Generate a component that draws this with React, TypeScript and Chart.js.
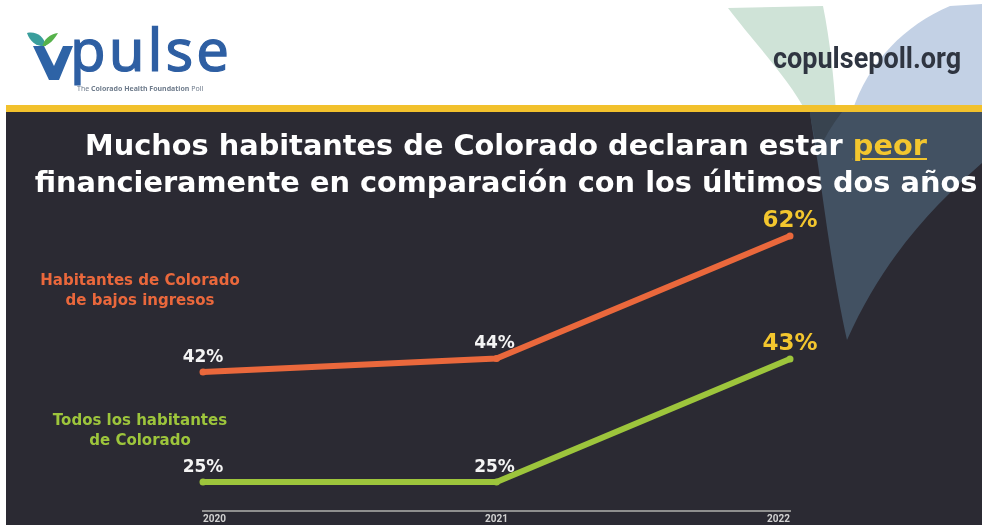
import React, { useEffect, useRef } from "react";
import { Chart, registerables } from "chart.js";

Chart.register(...registerables);

// ---- data ----
const years = ["2020", "2021", "2022"];
const lowIncome = [42, 44, 62];
const allResidents = [25, 25, 43];
const lowIncomeLegend = ["Habitantes de Colorado", "de bajos ingresos"];
const allLegend = ["Todos los habitantes", "de Colorado"];
const titleLine1 = "Muchos habitantes de Colorado declaran estar ";
const titleHighlight = "peor";
const titleLine2 = "financieramente en comparación con los últimos dos años";
const siteUrl = "copulsepoll.org";
const logoWord = "pulse";
const logoTagline = ["The ", "Colorado Health Foundation", " Poll"];

// ---- styles ----
const ORANGE = "#ea683c";
const GREEN = "#9dc53c";
const YELLOW = "#f3c62e";
const DARK = "#2b2a33";
const BOLD_FONT = '"DejaVu Sans", "Open Sans", sans-serif';

const valueLabels = {
  id: "valueLabels",
  afterDatasetsDraw(chart: any) {
    const ctx = chart.ctx;
    chart.data.datasets.forEach((ds: any, di: number) => {
      const meta = chart.getDatasetMeta(di);
      meta.data.forEach((pt: any, i: number) => {
        const last = i === ds.data.length - 1;
        ctx.save();
        ctx.font = `bold ${last ? 23 : 17}px ${BOLD_FONT}`;
        ctx.fillStyle = last ? YELLOW : "#f4f4f4";
        ctx.textAlign = "center";
        ctx.textBaseline = "alphabetic";
        ctx.fillText(`${ds.data[i]}%`, pt.x - (i === 1 ? 2 : 0), pt.y - (last ? 9 : 10));
        ctx.restore();
      });
    });
  },
};

export default function App() {
  const ref = useRef<HTMLCanvasElement>(null);

  useEffect(() => {
    const canvas = ref.current!;
    const common = {
      borderWidth: 6,
      pointRadius: 3.5,
      pointBorderWidth: 0,
      tension: 0,
      clip: false as any,
      borderJoinStyle: "round" as const,
      borderCapStyle: "round" as const,
    };
    const chart = new Chart(canvas, {
      type: "line",
      data: {
        labels: years,
        datasets: [
          {
            label: lowIncomeLegend.join(" "),
            data: lowIncome,
            yAxisID: "y",
            borderColor: ORANGE,
            backgroundColor: ORANGE,
            ...common,
          },
          {
            label: allLegend.join(" "),
            data: allResidents,
            yAxisID: "y2",
            borderColor: GREEN,
            backgroundColor: GREEN,
            ...common,
          },
        ],
      },
      options: {
        responsive: false,
        animation: false,
        devicePixelRatio: 1,
        events: [],
        layout: { padding: { left: 203, right: 192, top: 200, bottom: 0 } },
        plugins: { legend: { display: false }, tooltip: { enabled: false } },
        scales: {
          x: {
            type: "category",
            offset: false,
            grid: { display: false, drawTicks: false },
            border: { display: true, color: "#8f8f8f", width: 2 },
            ticks: {
              color: "#d2d2d2",
              font: { family: '"Liberation Sans Narrow", Roboto, sans-serif', size: 10, weight: "bold" },
              padding: 2,
              align: "inner",
              maxRotation: 0,
              autoSkip: false,
            },
            afterFit: (s: any) => {
              s.height = 14;
            },
          },
          y: { display: false, min: 21.56, max: 67.3 },
          y2: { display: false, min: 20.75, max: 66.3 },
        },
      } as any,
      plugins: [valueLabels],
    });
    return () => chart.destroy();
  }, []);

  const abs = (o: any) => ({ position: "absolute" as const, ...o });

  return (
    <div style={abs({ left: 0, top: 0, width: 982, height: 525, overflow: "hidden", background: "#fff" })}>
      <svg width={982} height={525} style={abs({ left: 0, top: 0 })}>
        {/* header decorations */}
        <path d="M728,8 L823,6 C830,40 834,80 836,112 L806,112 C790,80 752,40 728,8 Z" fill="#cfe3d7" />
        <path d="M852,112 C868,62 905,25 950,6 L982,4 L982,112 Z" fill="#c3d1e5" />
        {/* logo mark */}
        <path d="M27,33 C36,31 44,36 46,46 C37,47 30,42 27,33 Z" fill="#3a9e9c" />
        <path d="M58,33 C54,40 49,45 42,47 C44,39 50,34 58,33 Z" fill="#56b24b" />
        <path d="M33,46 L44,46 L54,66 L63,46 L73,46 L59,80 L49,80 Z" fill="#2e63a6" />
        {/* yellow band and dark panel */}
        <rect x={6} y={105} width={976} height={7} fill="#f2c12c" />
        <rect x={6} y={112} width={976} height={413} fill={DARK} />
        {/* panel leaf */}
        <path d="M810,112 L982,112 L982,163 C935,205 885,255 847,340 C838,300 830,250 823,200 C818,160 812,130 810,112 Z" fill="#425162" />
        <path d="M810,112 L842,112 C832,125 824,138 818,152 C814,135 811,122 810,112 Z" fill="#38434f" />
      </svg>

      <canvas ref={ref} width={982} height={525} style={abs({ left: 0, top: 0, width: 982, height: 525 })} />

      {/* logo text */}
      <div style={abs({ left: 70, top: 14, fontFamily: '"Noto Sans", sans-serif', fontSize: 58, color: "#2e5fa3", letterSpacing: 3, lineHeight: "70px", whiteSpace: "nowrap", WebkitTextStroke: "1.2px #2e5fa3" })}>
        {logoWord}
      </div>
      <div style={abs({ left: 77, top: 84, fontFamily: '"Noto Sans", sans-serif', fontSize: 7, color: "#6f7c8c", whiteSpace: "nowrap", lineHeight: "9px" })}>
        {logoTagline[0]}
        <b>{logoTagline[1]}</b>
        {logoTagline[2]}
      </div>
      <div style={abs({ left: 773, top: 36, fontFamily: "Roboto, sans-serif", fontWeight: 700, fontSize: 30, color: "#2f3541", whiteSpace: "nowrap", lineHeight: "44px", transform: "scaleX(0.9)", transformOrigin: "left center" })}>
        {siteUrl}
      </div>

      {/* title */}
      <div style={abs({ left: 30, width: 952, top: 127, textAlign: "center", color: "#ffffff", fontFamily: BOLD_FONT, fontWeight: 700, fontSize: 28.8, lineHeight: "37px", whiteSpace: "nowrap" })}>
        {titleLine1}
        <span style={{ color: YELLOW, textDecoration: "underline", textDecorationThickness: 2, textUnderlineOffset: 3 }}>{titleHighlight}</span>
        <br />
        {titleLine2}
      </div>

      {/* series labels */}
      <div style={abs({ left: 40, width: 200, top: 270, textAlign: "center", color: ORANGE, fontFamily: BOLD_FONT, fontWeight: 700, fontSize: 15, lineHeight: "20px", whiteSpace: "nowrap" })}>
        {lowIncomeLegend[0]}
        <br />
        {lowIncomeLegend[1]}
      </div>
      <div style={abs({ left: 40, width: 200, top: 410, textAlign: "center", color: GREEN, fontFamily: BOLD_FONT, fontWeight: 700, fontSize: 15, lineHeight: "20px", whiteSpace: "nowrap" })}>
        {allLegend[0]}
        <br />
        {allLegend[1]}
      </div>
    </div>
  );
}
